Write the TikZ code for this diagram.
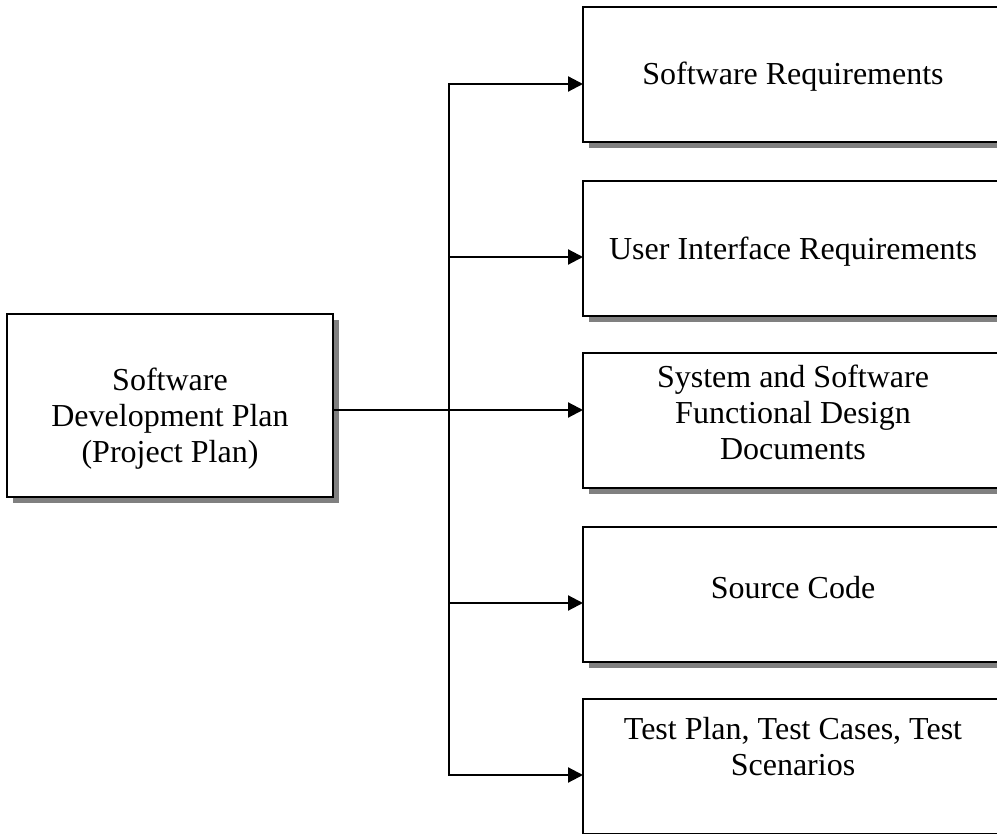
\documentclass[tikz,border=0pt]{standalone}
\usepackage{fontspec}
\setmainfont{Liberation Serif}
\usetikzlibrary{arrows.meta,shadows}
\definecolor{shadowgray}{HTML}{808080}
\begin{document}
\begin{tikzpicture}[x=1pt,y=-1pt,
  box/.style={draw, line width=2.2pt, fill=white, anchor=north west,
    inner sep=0pt, outer sep=0pt,
    drop shadow={fill=shadowgray, opacity=1, shadow xshift=6pt, shadow yshift=-6pt}},
  docbox/.style={box, minimum width=420pt, minimum height=135pt},
  txt/.style={font=\fontsize{32}{36}\selectfont, align=center, inner sep=0pt},
  conn/.style={line width=2.2pt, line join=miter},
  tip/.style={-{Triangle[length=15pt,width=15pt]}}
]
\useasboundingbox (0,0) rectangle (997,834);
\clip (0,0) rectangle (997,834);

% source document
\node[box, minimum width=326pt, minimum height=183pt] (plan) at (7,314) {};
\node[txt] (plantxt) at (170,419) {Software\\Development Plan\\(Project Plan)};

% derived documents
\node[docbox] (req)  at (583,7)   {};
\node[docbox] (ui)   at (583,181) {};
\node[docbox] (fds)  at (583,353) {};
\node[docbox] (code) at (583,527) {};
\node[docbox] (test) at (583,699) {};

\node[txt] (reqtxt)  at (793,77)  {Software Requirements};
\node[txt] (uitxt)   at (793,252) {User Interface Requirements};
\node[txt] (fdstxt)  at (793,412) {System and Software\\Functional Design\\Documents};
\node[txt] (codetxt) at (793,588) {Source Code};
\node[txt] (testtxt) at (793,747) {Test Plan, Test Cases, Test\\Scenarios};

% distribution trunk
\coordinate (t1) at (449,84);
\coordinate (t2) at (449,257);
\coordinate (t3) at (449,410);
\coordinate (t4) at (449,603);
\coordinate (t5) at (449,775);

\draw[conn, {Triangle[length=15pt,width=15pt]}-{Triangle[length=15pt,width=15pt]}]
  (req.west |- t1) -- (t1) -- (t5) -- (test.west |- t5);
\draw[conn] (plan.east |- t3) -- (t3);
\draw[conn, tip] (t2) -- (ui.west |- t2);
\draw[conn, tip] (t3) -- (fds.west |- t3);
\draw[conn, tip] (t4) -- (code.west |- t4);
\end{tikzpicture}
\end{document}
